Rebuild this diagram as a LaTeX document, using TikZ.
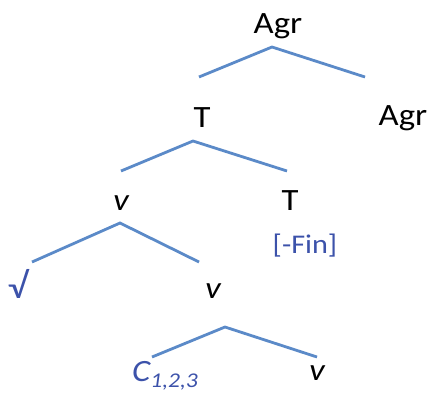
\documentclass[tikz,border=0pt]{standalone}
\usepackage{fontspec}
\setmainfont{Carlito}
\definecolor{branch}{RGB}{91,138,200}
\definecolor{lbl}{RGB}{60,82,170}
\newcommand{\wide}[1]{\scalebox{1.12}[1]{#1}}
\begin{document}
\begin{tikzpicture}[x=1pt,y=-1pt,
  lab/.style={anchor=base,inner sep=0pt,font=\fontsize{31}{34}\selectfont},
  bluelab/.style={lab,text=lbl},
  br/.style={draw=branch,line width=2.8pt,line join=miter,line cap=butt}]
\useasboundingbox (0,0) rectangle (430,392);
% labels
\node[lab] (agr) at (278,33) {\wide{Agr}};
\node[lab] (t1) at (202,127) {\wide{T}};
\node[lab] (agr2) at (403,125) {\wide{Agr}};
\node[lab] (v1) at (121,210) {\wide{\itshape v}};
\node[lab] (t2) at (290,210) {\wide{T}};
\node[bluelab,font=\fontsize{27}{30}\selectfont] (fin) at (305,253) {\wide{[-Fin]}};
\node[bluelab,font=\fontsize{36}{38}\selectfont] (root) at (18,298) {\wide{√}};
\node[lab] (v2) at (213,298) {\wide{\itshape v}};
\node[bluelab,anchor=base west] (c) at (132,381) {\wide{\itshape C\raisebox{-0.22em}{\fontsize{21}{23}\selectfont 1,2,3}}};
\node[lab] (v3) at (317,380) {\wide{\itshape v}};
% branch points
\coordinate (a1) at (272,47);
\coordinate (a1l) at (199,77);
\coordinate (a1r) at (365,77);
\coordinate (a2) at (193,141);
\coordinate (a2l) at (121,171);
\coordinate (a2r) at (287,171);
\coordinate (a3) at (120,223);
\coordinate (a3l) at (32,262);
\coordinate (a3r) at (199,262);
\coordinate (a4) at (225,327);
\coordinate (a4l) at (152,357);
\coordinate (a4r) at (317,357);
\draw[br] (a1l) -- (a1) -- (a1r);
\draw[br] (a2l) -- (a2) -- (a2r);
\draw[br] (a3l) -- (a3) -- (a3r);
\draw[br] (a4l) -- (a4) -- (a4r);
\end{tikzpicture}
\end{document}
